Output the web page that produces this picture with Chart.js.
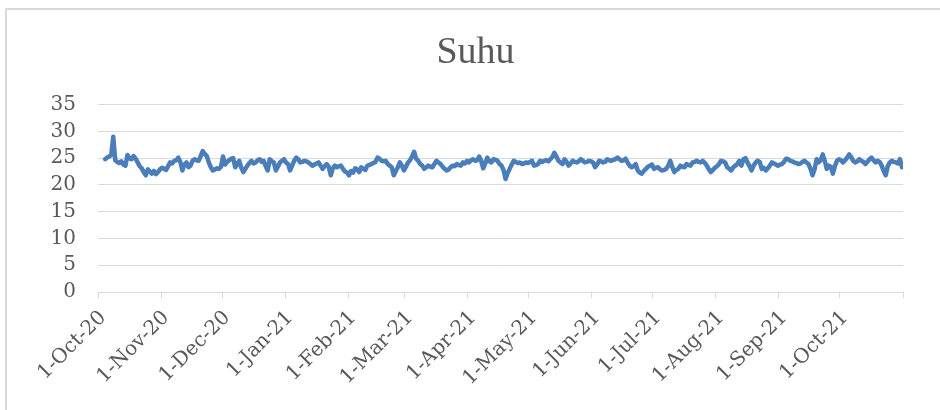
<!DOCTYPE html>
<html>
<head>
<meta charset="utf-8">
<script src="https://cdn.jsdelivr.net/npm/chart.js@4.4.0/dist/chart.umd.min.js"></script>
<style>
  html, body { margin: 0; padding: 0; background: #fff; }
  #wrap { position: relative; width: 940px; height: 410px; overflow: hidden; }
  #frame { position: absolute; left: 5px; top: 8px; width: 980px; height: 450px;
           border-left: 2px solid #d9d9d9; border-top: 2px solid #d9d9d9; }
  canvas { position: absolute; left: 0; top: 0; }
</style>
</head>
<body>
<div id="wrap">
  <div id="frame"></div>
  <canvas id="suhuChart" width="940" height="410"></canvas>
</div>
<script>
// Daily temperature (Suhu), one array per month, first value = 4-Oct-20
const dataStart = "2020-10-04";

const suhuOct20 = [24.8, 25.1, 25.3, 25.6, 29.0, 24.6, 24.3, 24.1, 24.4, 23.8,
  23.6, 25.6, 25.0, 24.8, 25.4, 24.9, 24.2, 23.5, 23.1, 22.4,
  21.8, 22.9, 22.5, 22.1, 22.6, 22.0, 22.4, 22.9];
const suhuNov20 = [23.2, 23.0, 22.8, 23.5, 24.2, 24.0, 24.5, 24.6, 25.1, 24.3,
  22.7, 23.8, 24.2, 23.3, 23.6, 24.5, 24.8, 24.6, 24.5, 25.4,
  26.3, 25.8, 25.4, 24.2, 23.3, 22.7, 22.9, 23.1, 23.0, 23.4];
const suhuDec20 = [25.3, 23.8, 24.3, 24.6, 24.9, 25.0, 23.3, 23.9, 24.5, 23.2,
  22.4, 23.0, 23.6, 24.1, 24.5, 24.0, 24.2, 24.6, 24.8, 24.3,
  24.5, 23.5, 22.7, 24.8, 24.4, 24.2, 22.7, 23.4, 24.2, 24.5, 24.8];
const suhuJan21 = [24.2, 23.9, 22.7, 23.6, 24.5, 25.1, 24.8, 24.2, 24.3, 24.5,
  24.4, 24.2, 23.9, 23.6, 23.8, 24.0, 24.2, 23.6, 23.0, 23.5,
  23.9, 23.4, 21.8, 23.1, 23.6, 23.3, 23.5, 23.6, 23.0, 22.5, 22.3];
const suhuFeb21 = [21.8, 22.6, 22.3, 23.1, 22.9, 22.4, 23.3, 23.0, 22.8, 23.6,
  23.7, 23.9, 24.1, 24.3, 25.1, 24.9, 24.5, 24.4, 24.5, 23.9,
  23.6, 23.3, 21.8, 22.6, 23.3, 24.2, 23.6, 22.7];
const suhuMar21 = [23.4, 24.2, 24.6, 25.3, 26.2, 24.9, 24.5, 23.9, 23.6, 23.0,
  23.3, 23.6, 23.4, 23.3, 23.9, 24.5, 24.2, 23.9, 23.4, 23.0,
  22.7, 22.9, 23.3, 23.6, 23.5, 23.9, 23.7, 23.6, 24.2, 24.0, 24.5];
const suhuApr21 = [24.2, 24.6, 24.8, 24.5, 24.6, 25.3, 24.5, 23.1, 24.0, 25.1,
  24.4, 24.2, 24.8, 24.7, 24.5, 23.9, 23.6, 22.8, 21.1, 22.2,
  23.0, 23.8, 24.5, 24.3, 24.1, 24.2, 23.9, 24.0, 24.2, 24.1];
const suhuMay21 = [24.3, 24.5, 23.6, 23.7, 23.9, 24.5, 24.3, 24.5, 24.6, 24.4,
  24.8, 25.2, 26.0, 25.3, 24.5, 24.2, 23.9, 24.8, 24.3, 23.6,
  24.0, 24.5, 24.3, 24.2, 24.4, 24.8, 24.5, 24.2, 24.3, 24.5, 24.4];
const suhuJun21 = [24.2, 23.3, 23.8, 24.5, 24.4, 24.2, 24.3, 24.8, 24.6, 24.5,
  24.7, 24.8, 25.1, 24.8, 24.5, 24.6, 24.9, 24.2, 23.6, 23.3,
  23.5, 23.9, 22.7, 22.3, 22.1, 22.6, 23.0, 23.4, 23.6, 23.8];
const suhuJul21 = [23.0, 23.2, 23.3, 22.9, 22.7, 22.8, 23.0, 23.6, 24.5, 23.3,
  22.4, 22.8, 23.0, 23.6, 23.4, 23.3, 23.9, 23.7, 23.6, 24.2,
  24.3, 24.5, 24.3, 24.2, 24.5, 24.1, 23.6, 22.9, 22.4, 22.8, 23.2];
const suhuAug21 = [23.5, 23.9, 24.5, 24.4, 24.2, 23.3, 23.0, 22.7, 23.3, 23.6,
  23.9, 24.5, 23.6, 24.8, 25.0, 24.2, 23.5, 22.7, 23.6, 24.2,
  24.5, 24.3, 23.0, 23.2, 22.7, 23.1, 23.6, 24.2, 24.0, 23.8, 23.6];
const suhuSep21 = [23.8, 23.9, 24.3, 24.9, 24.8, 24.5, 24.4, 24.2, 24.1, 23.9,
  24.0, 24.3, 24.5, 24.2, 23.9, 23.0, 21.8, 22.9, 24.8, 24.2,
  24.6, 25.7, 24.5, 23.0, 23.6, 23.4, 22.1, 23.5, 24.5, 24.8];
const suhuOct21 = [24.6, 24.2, 24.6, 25.1, 25.7, 25.2, 24.5, 24.2, 24.4, 24.8,
  24.5, 24.3, 23.9, 24.3, 24.8, 25.1, 24.6, 24.2, 24.5, 24.3,
  23.6, 22.6, 21.8, 23.5, 24.2, 24.5, 24.3, 24.2, 24.0, 24.8, 23.3];

// x axis labels (first day of each month)
const tickLabels = ["1-Oct-20", "1-Nov-20", "1-Dec-20", "1-Jan-21", "1-Feb-21",
  "1-Mar-21", "1-Apr-21", "1-May-21", "1-Jun-21", "1-Jul-21", "1-Aug-21",
  "1-Sep-21", "1-Oct-21"];

const suhu = [].concat(suhuOct20, suhuNov20, suhuDec20, suhuJan21, suhuFeb21,
  suhuMar21, suhuApr21, suhuMay21, suhuJun21, suhuJul21, suhuAug21,
  suhuSep21, suhuOct21);

// day offsets from 1-Oct-20
const DAY = 86400000;
const axisStart = Date.UTC(2020, 9, 1);
const startOffset = (Date.parse(dataStart) - axisStart) / DAY;
const monthTicks = tickLabels.map((_, i) => Math.round((Date.UTC(2020, 9 + i, 1) - axisStart) / DAY));
const axisEnd = Math.round((Date.UTC(2021, 10, 1) - axisStart) / DAY);

// each day sits in the middle of its own slot, like the spreadsheet date axis
const points = suhu.map((v, i) => ({ x: startOffset + i + 0.5, y: v }));

const grey = "#595959";
const gridGrey = "#d9d9d9";
const padLeft = 48;

new Chart(document.getElementById("suhuChart"), {
  type: "line",
  data: {
    datasets: [{
      label: "Suhu",
      data: points,
      borderColor: "#4a7ebb",
      borderWidth: 4.5,
      pointRadius: 0,
      tension: 0,
      fill: false,
      borderJoinStyle: "round",
      borderCapStyle: "round"
    }]
  },
  options: {
    responsive: false,
    animation: false,
    layout: { padding: { left: padLeft, right: 37, top: 0, bottom: 0 } },
    plugins: {
      legend: { display: false },
      tooltip: { enabled: false },
      title: {
        display: true,
        text: "Suhu",
        color: grey,
        font: { family: "Liberation Serif", size: 38, weight: "normal" },
        padding: { top: 30, bottom: 29 }
      }
    },
    scales: {
      x: {
        type: "linear",
        min: 0,
        max: axisEnd,
        afterBuildTicks: function(scale) {
          scale.ticks = monthTicks.concat([axisEnd]).map(v => ({ value: v }));
        },
        afterFit: function(scale) {
          scale.height = 410 - 292;
        },
        ticks: {
          autoSkip: false,
          minRotation: 45,
          maxRotation: 45,
          color: grey,
          font: { family: "DejaVu Serif", size: 20 },
          padding: 8,
          labelOffset: 5,
          callback: function(value) {
            let i = monthTicks.indexOf(value);
            return i >= 0 ? tickLabels[i] : "";
          }
        },
        grid: { drawOnChartArea: false, drawTicks: true, tickLength: 6, color: gridGrey },
        border: { color: gridGrey, width: 1 }
      },
      y: {
        min: 0,
        max: 35,
        afterFit: function(scale) {
          scale.width = 98 - padLeft;
        },
        ticks: {
          stepSize: 5,
          autoSkip: false,
          color: grey,
          font: { family: "DejaVu Serif", size: 20 },
          padding: 22
        },
        grid: { color: gridGrey, drawTicks: false },
        border: { display: false }
      }
    }
  }
});
</script>
</body>
</html>
